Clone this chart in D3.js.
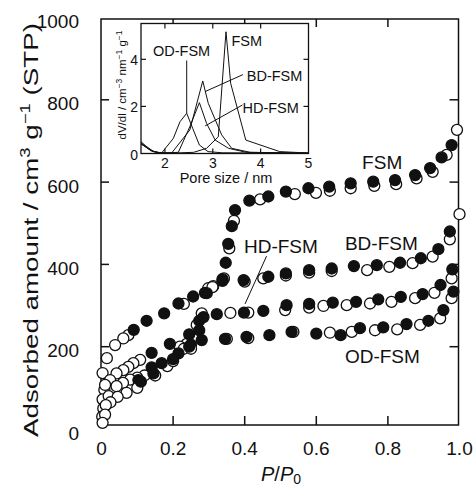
<!DOCTYPE html>
<html><head><meta charset="utf-8">
<script src="https://cdn.jsdelivr.net/npm/d3@7"></script>
<style>body{margin:0;background:#fff}svg{display:block;font-family:"Liberation Sans",Arial,Helvetica,sans-serif}</style>
</head><body><svg id="c" width="475" height="488"></svg>
<script>
// ---------- main isotherm data: [P/P0, adsorbed amount] ----------
const fsmAds = [[0.09,241],[0.126,263],[0.175,281],[0.215,305],[0.256,322],[0.289,331],[0.338,364],[0.347,404],[0.354,450],[0.364,493],[0.373,532],[0.413,555],[0.466,565],[0.515,577],[0.578,585],[0.636,589],[0.696,597],[0.759,601],[0.82,605],[0.876,617],[0.918,634],[0.95,660],[0.978,690]];
const fsmDes = [[1.0,522],[0.993,727],[0.964,666],[0.925,625],[0.88,609],[0.823,595],[0.762,591],[0.696,585],[0.638,579],[0.599,574],[0.54,571],[0.443,558],[0.37,506],[0.357,439],[0.342,366],[0.312,347],[0.298,342],[0.23,304],[0.075,228],[0.061,220],[0.038,204],[0.015,172],[0.003,136]];
const bdAds = [[0.14,185],[0.191,207],[0.245,230],[0.273,263],[0.294,330],[0.338,360],[0.397,362],[0.466,370],[0.515,378],[0.58,386],[0.643,390],[0.705,396],[0.769,398],[0.834,404],[0.892,415],[0.941,437],[0.973,480]];
const bdDes = [[0.973,461],[0.925,419],[0.869,403],[0.804,394],[0.742,386],[0.643,384],[0.58,380],[0.515,373],[0.452,366],[0.40,358],[0.31,345],[0.28,281],[0.266,253],[0.238,207],[0.219,200],[0.108,168],[0.089,160],[0.075,151],[0.061,143],[0.042,135],[0.024,119],[0.008,95],[0.003,72]];
const hdAds = [[0.103,119],[0.14,150],[0.168,160],[0.215,184],[0.25,205],[0.273,240],[0.285,272],[0.322,279],[0.398,283],[0.452,287],[0.517,301],[0.58,304],[0.646,307],[0.711,309],[0.773,315],[0.836,321],[0.897,328],[0.947,350],[0.98,388]];
const hdDes = [[0.978,366],[0.93,331],[0.876,318],[0.81,309],[0.75,305],[0.685,301],[0.62,299],[0.58,295],[0.513,289],[0.41,283],[0.36,282],[0.23,195],[0.184,153],[0.145,134],[0.12,130],[0.1,125],[0.08,120],[0.06,112],[0.042,104],[0.02,80],[0.01,107],[0.005,50],[0.002,30]];
const odAds = [[0.11,115],[0.145,135],[0.2,170],[0.245,200],[0.28,216],[0.345,219],[0.405,224],[0.469,228],[0.531,236],[0.6,232],[0.668,228],[0.722,245],[0.787,247],[0.852,255],[0.913,263],[0.955,289],[0.983,334]];
const odDes = [[0.978,318],[0.946,269],[0.89,253],[0.826,242],[0.764,240],[0.699,236],[0.638,234],[0.536,236],[0.41,221],[0.35,219],[0.25,195],[0.2,165],[0.15,130],[0.1,100],[0.07,88],[0.045,78],[0.025,65],[0.012,58],[0.01,35],[0.003,15]];
const xTicks = [0,0.2,0.4,0.6,0.8,1.0];
const xTickLabels = ["0","0.2","0.4","0.6","0.8","1.0"];
const yTicks = [0,200,400,600,800,1000];

// ---------- inset pore-size distributions: [pore size nm, dV/dl] ----------
const psdFSM = [[1.5,0.45],[1.6,0.3],[1.7,0.12],[1.85,0.04],[2.2,0.02],[2.6,0.05],[2.87,0.22],[3.115,0.71],[3.276,5.17],[3.374,2.98],[3.69,0.57],[4.4,0.08],[5,0.02]];
const psdBD = [[1.5,0.5],[1.6,0.32],[1.75,0.1],[1.9,0.03],[2.14,0.02],[2.52,1.0],[2.79,3.08],[2.906,2.13],[3.186,0.79],[3.395,0.22],[3.78,0.05],[5,0.02]];
const psdHD = [[1.5,0.42],[1.65,0.2],[1.8,0.06],[2.0,0.02],[2.28,0.05],[2.52,1.14],[2.72,2.16],[2.87,1.28],[3.05,0.57],[3.33,0.22],[3.7,0.05],[5,0.01]];
const psdOD = [[1.5,0.4],[1.6,0.28],[1.75,0.08],[1.93,0.02],[2.175,0.64],[2.315,1.35],[2.455,1.71],[2.58,1.07],[2.72,0.36],[2.9,0.08],[3.2,0.03],[5,0.01]];
const insetXTicks = [2,3,4,5];
const insetYTicks = [0,2,4];

const svg = d3.select("#c");
const ink = "#111";
const x = d3.scaleLinear().domain([0,1]).range([101.5,459.5]);
const y = d3.scaleLinear().domain([0,1000]).range([429,17.5]);
const fL=101, fR=458.5, fT=19, fB=425;

// frame
const g = svg.append("g").attr("stroke",ink).attr("stroke-width",1.5).attr("fill","none");
g.append("rect").attr("x",fL).attr("y",fT).attr("width",fR-fL).attr("height",fB-fT);
xTicks.filter(t=>t>0&&t<1).forEach(t=>{
  g.append("line").attr("x1",x(t)).attr("x2",x(t)).attr("y1",fB).attr("y2",fB-9);
  g.append("line").attr("x1",x(t)).attr("x2",x(t)).attr("y1",fT).attr("y2",fT+8);
});
yTicks.filter(t=>t>0&&t<1000).forEach(t=>{
  g.append("line").attr("x1",fL).attr("x2",fL+8).attr("y1",y(t)).attr("y2",y(t));
  g.append("line").attr("x1",fR).attr("x2",fR-9).attr("y1",y(t)).attr("y2",y(t));
});
// tick labels
svg.append("g").attr("font-size",19).attr("fill",ink).attr("text-anchor","end")
  .selectAll("text").data(yTicks).join("text")
  .attr("x",79).attr("y",d=>y(d)+4).attr("dominant-baseline","central").text(d=>d);
svg.append("g").attr("font-size",19).attr("fill",ink).attr("text-anchor","middle")
  .selectAll("text").data(xTicks).join("text")
  .attr("x",d=>x(d)).attr("y",454.5).text((d,i)=>xTickLabels[i]);
// axis titles
const xt = svg.append("text").attr("x",281).attr("y",481).attr("font-size",20).attr("fill",ink).attr("text-anchor","middle");
xt.append("tspan").attr("font-style","italic").text("P");
xt.append("tspan").text("/");
xt.append("tspan").attr("font-style","italic").text("P");
xt.append("tspan").attr("font-size",14).attr("dy",3).text("0");
const yt = svg.append("text").attr("font-size",21).attr("fill",ink).attr("text-anchor","middle");
yt.append("tspan").text("Adsorbed amount  / cm");
yt.append("tspan").attr("font-size",14).attr("dy",-8).text("3");
yt.append("tspan").attr("dy",8).text(" g");
yt.append("tspan").attr("font-size",14).attr("dy",-8).text("−1");
yt.append("tspan").attr("dy",8).text(" (STP)");
const ytw = yt.node().getBBox().width;
yt.attr("transform",`translate(38,230) rotate(-90) scale(${414/ytw},1)`);

// points
const series = [[fsmDes,fsmAds],[bdDes,bdAds],[hdDes,hdAds],[odDes,odAds]];
const pts = svg.append("g");
series.forEach(([des,ads])=>{
  pts.append("g").selectAll("circle").data(des).join("circle")
    .attr("cx",d=>x(d[0])).attr("cy",d=>y(d[1])).attr("r",5.5)
    .attr("fill","#fff").attr("stroke",ink).attr("stroke-width",1.3);
  pts.append("g").selectAll("circle").data(ads).join("circle")
    .attr("cx",d=>x(d[0])).attr("cy",d=>y(d[1])).attr("r",5.5)
    .attr("fill",ink).attr("stroke",ink).attr("stroke-width",1.3);
});
// main labels
const lab = svg.append("g").attr("font-size",19).attr("fill",ink);
lab.append("text").attr("x",x(0.728)).attr("y",y(632)).text("FSM");
lab.append("text").attr("x",x(0.68)).attr("y",y(435)).text("BD-FSM");
lab.append("text").attr("x",x(0.398)).attr("y",y(428)).text("HD-FSM");
lab.append("text").attr("x",x(0.68)).attr("y",y(160)).text("OD-FSM");
svg.append("line").attr("x1",x(0.461)).attr("y1",y(420)).attr("x2",x(0.401)).attr("y2",y(304)).attr("stroke",ink).attr("stroke-width",1);

// ---------- inset ----------
const ix = d3.scaleLinear().domain([1.5,5]).range([141,308.5]);
const iy = d3.scaleLinear().domain([0,5.5]).range([153.5,24]);
const iT=23.5, iB=153.5, iL=141, iR=308.5;
svg.append("rect").attr("x",iL).attr("y",iT).attr("width",iR-iL).attr("height",iB-iT).attr("fill","#fff").attr("stroke",ink).attr("stroke-width",1.3);
const ig = svg.append("g").attr("stroke",ink).attr("stroke-width",1.2);
insetXTicks.filter(t=>t<5).forEach(t=>{
  ig.append("line").attr("x1",ix(t)).attr("x2",ix(t)).attr("y1",iB).attr("y2",iB-5);
  ig.append("line").attr("x1",ix(t)).attr("x2",ix(t)).attr("y1",iT).attr("y2",iT+5);
});
insetYTicks.filter(t=>t>0).forEach(t=>{
  ig.append("line").attr("x1",iL).attr("x2",iL+5).attr("y1",iy(t)).attr("y2",iy(t));
  ig.append("line").attr("x1",iR).attr("x2",iR-5).attr("y1",iy(t)).attr("y2",iy(t));
});
const line = d3.line().x(d=>ix(d[0])).y(d=>iy(d[1]));
[psdFSM,psdBD,psdHD,psdOD].forEach(s=>{
  svg.append("path").attr("d",line(s)).attr("fill","none").attr("stroke",ink).attr("stroke-width",1);
});
svg.append("g").attr("font-size",14).attr("fill",ink).attr("text-anchor","middle")
  .selectAll("text").data(insetXTicks).join("text")
  .attr("x",d=>ix(d)).attr("y",168).text(d=>d);
svg.append("g").attr("font-size",14).attr("fill",ink).attr("text-anchor","end")
  .selectAll("text").data(insetYTicks).join("text")
  .attr("x",138).attr("y",d=>iy(d)+1).attr("dominant-baseline","central").text(d=>d);
svg.append("text").attr("x",226).attr("y",183).attr("font-size",14.5).attr("fill",ink).attr("text-anchor","middle").text("Pore size  / nm");
const iyt = svg.append("text").attr("transform","translate(126,85) rotate(-90)").attr("font-size",11.5).attr("fill",ink).attr("text-anchor","middle");
iyt.append("tspan").text("dV/dl  / cm");
iyt.append("tspan").attr("font-size",8.5).attr("dy",-4).text("−3");
iyt.append("tspan").attr("dy",4).text(" nm");
iyt.append("tspan").attr("font-size",8.5).attr("dy",-4).text("−1");
iyt.append("tspan").attr("dy",4).text(" g");
iyt.append("tspan").attr("font-size",8.5).attr("dy",-4).text("−1");
const il = svg.append("g").attr("font-size",14.5).attr("fill",ink);
il.append("text").attr("x",ix(1.75)).attr("y",iy(4.15)).text("OD-FSM");
il.append("text").attr("x",ix(3.39)).attr("y",iy(4.58)).text("FSM");
il.append("text").attr("x",ix(3.71)).attr("y",iy(3.08)).text("BD-FSM");
il.append("text").attr("x",ix(3.62)).attr("y",iy(1.74)).text("HD-FSM");
const ll = svg.append("g").attr("stroke",ink).attr("stroke-width",1);
ll.append("line").attr("x1",ix(2.455)).attr("y1",iy(3.95)).attr("x2",ix(2.455)).attr("y2",iy(1.71));
ll.append("line").attr("x1",ix(3.63)).attr("y1",iy(3.35)).attr("x2",ix(2.84)).attr("y2",iy(2.63));
ll.append("line").attr("x1",ix(3.62)).attr("y1",iy(2.06)).attr("x2",ix(2.84)).attr("y2",iy(1.17));
</script></body></html>
